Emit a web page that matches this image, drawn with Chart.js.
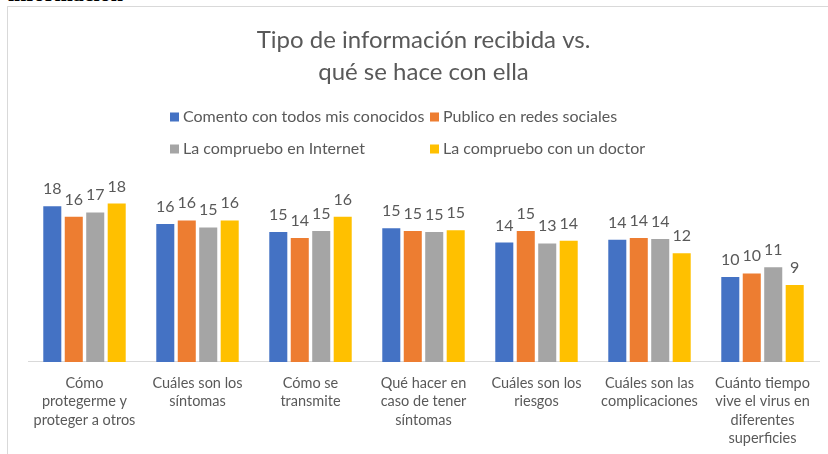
<!DOCTYPE html>
<html>
<head>
<meta charset="utf-8">
<script src="https://cdn.jsdelivr.net/npm/chart.js@4.4.1/dist/chart.umd.min.js"></script>
<style>
  html, body { margin: 0; padding: 0; background: #fff; overflow: hidden; }
  body { width: 828px; height: 454px; position: relative; }
  #doc { position: absolute; left: 8px; top: -17px; font: bold 22px "Liberation Serif", serif; line-height: 1; color: #000; }
  #frame { position: absolute; left: 7px; top: 6px; width: 840px; height: 470px; border: 1px solid #d9d9d9; }
  #wrap { position: absolute; left: 0; top: 0; width: 828px; height: 466px; }
</style>
</head>
<body>
<div id="doc">información</div>
<div id="frame"></div>
<div id="wrap"><canvas id="infoChart"></canvas></div>
<script>
// categories (already wrapped like in the original)
const categories = [
    ['Cómo', 'protegerme y', 'proteger a otros'],
    ['Cuáles son los', 'síntomas'],
    ['Cómo se', 'transmite'],
    ['Qué hacer en', 'caso de tener', 'síntomas'],
    ['Cuáles son los', 'riesgos'],
    ['Cuáles son las', 'complicaciones'],
    ['Cuánto tiempo', 'vive el virus en', 'diferentes', 'superficies']
];

const seriesNames = ['Comento con todos mis conocidos', 'Publico en redes sociales', 'La compruebo en Internet', 'La compruebo con un doctor'];
const comento = [17.6, 15.6, 14.7, 15.1, 13.5, 13.8, 9.6];
const publico = [16.4, 16.0, 14.0, 14.8, 14.8, 14.0, 10.0];
const internet = [16.9, 15.2, 14.8, 14.7, 13.4, 13.9, 10.7];
const doctor = [17.9, 16.0, 16.4, 14.9, 13.7, 12.3, 8.7];

const colors = ['#4472C4', '#ED7D31', '#A5A5A5', '#FFC000'];
const textColor = '#595959';
const fontFamily = 'Lato, "Open Sans", sans-serif';

// value labels above each bar
const valueLabels = {
    id: 'valueLabels',
    afterDatasetsDraw(chart) {
        const ctx = chart.ctx;
        ctx.save();
        ctx.font = '16px ' + fontFamily;
        ctx.fillStyle = textColor;
        ctx.textAlign = 'center';
        ctx.textBaseline = 'alphabetic';
        chart.data.datasets.forEach((ds, i) => {
            chart.getDatasetMeta(i).data.forEach((bar, j) => {
                ctx.fillText(Math.round(ds.data[j]), bar.x, bar.y - 12);
            });
        });
        ctx.restore();
    }
};

// two column legend like Excel
const gridLegend = {
    id: 'gridLegend',
    afterDraw(chart) {
        const ctx = chart.ctx;
        ctx.save();
        ctx.font = '16px ' + fontFamily;
        ctx.textBaseline = 'middle';
        ctx.textAlign = 'left';
        const colX = [170, 430];
        const rowY = [117, 149];
        chart.data.datasets.forEach((ds, i) => {
            const x = colX[i % 2];
            const y = rowY[Math.floor(i / 2)];
            ctx.fillStyle = ds.backgroundColor;
            ctx.fillRect(x, y - 4.5, 9, 9);
            ctx.fillStyle = textColor;
            ctx.fillText(ds.label, x + 13, y);
        });
        ctx.restore();
    }
};

const data = {
    labels: categories,
    datasets: [comento, publico, internet, doctor].map((vals, i) => ({
        label: seriesNames[i],
        data: vals,
        backgroundColor: colors[i],
        borderWidth: 0,
        categoryPercentage: 0.76,
        barPercentage: 0.84
    }))
};

new Chart(document.getElementById('infoChart'), {
    type: 'bar',
    data: data,
    options: {
        responsive: true,
        maintainAspectRatio: false,
        animation: false,
        layout: { padding: { left: 28, right: 9, top: 0, bottom: 6 } },
        plugins: {
            legend: { display: false },
            tooltip: { enabled: false },
            title: {
                display: true,
                text: ['Tipo de información recibida vs.', 'qué se hace con ella'],
                color: textColor,
                font: { family: fontFamily, size: 24, weight: 'normal', lineHeight: 1.3333 },
                padding: { top: 24, bottom: 97 }
            }
        },
        scales: {
            x: {
                grid: { display: false, drawTicks: false },
                border: { display: true, color: '#d9d9d9', width: 1 },
                ticks: {
                    color: textColor,
                    padding: 12,
                    maxRotation: 0,
                    autoSkip: false,
                    font: { family: fontFamily, size: 14.5, lineHeight: 1.276 }
                }
            },
            y: {
                display: false,
                min: 0,
                max: 20
            }
        }
    },
    plugins: [valueLabels, gridLegend]
});
</script>
</body>
</html>
